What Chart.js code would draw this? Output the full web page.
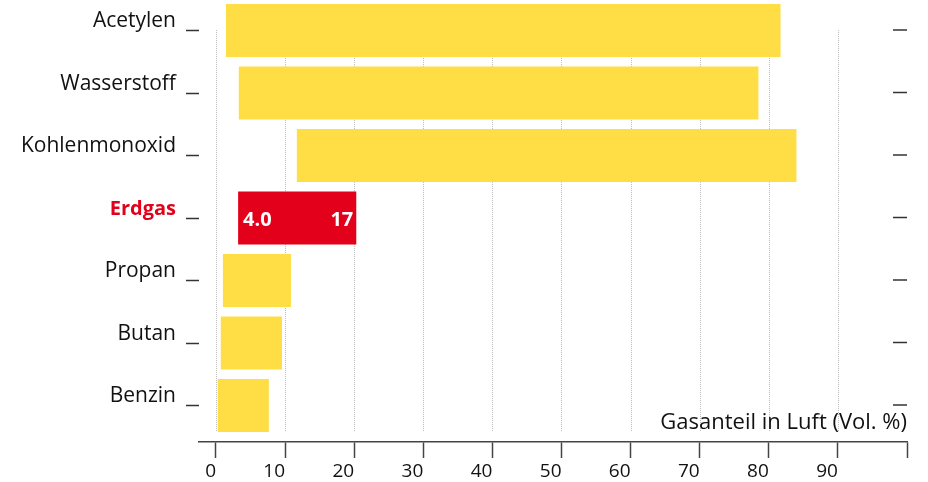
<!DOCTYPE html>
<html>
<head>
<meta charset="utf-8">
<script src="https://cdn.jsdelivr.net/npm/chart.js@4/dist/chart.umd.min.js"></script>
<style>
  body { margin: 0; background: #fff; }
  #wrap { width: 928px; height: 482px; }
</style>
</head>
<body>
<div id="wrap"><canvas id="gasChart"></canvas></div>
<script>
// Gases and their flammable range in air (Vol. %)
var gases = ['Acetylen', 'Wasserstoff', 'Kohlenmonoxid', 'Erdgas', 'Propan', 'Butan', 'Benzin'];
var lowerLimit = [1.45, 3.3, 11.7, 3.2, 1.0, 0.7, 0.25];
var upperLimit = [81.7, 78.5, 84.0, 20.3, 10.85, 9.55, 7.65];
var xTicks = [0, 10, 20, 30, 40, 50, 60, 70, 80, 90, 100];
var highlightGas = 'Erdgas';
var highlightLabels = ['4.0', '17'];
var axisTitle = 'Gasanteil in Luft (Vol. %)';

var YELLOW = '#ffde45';
var RED = '#e2001a';
var FONT = '"Open Sans", "Noto Sans", sans-serif';
var hi = gases.indexOf(highlightGas);

// build the floating bar points
var points = [];
for (var i = 0; i < gases.length; i++) {
    points.push({ y: i, x: [lowerLimit[i], upperLimit[i]] });
}

// dotted grid, right side marks and texts
var extras = {
    id: 'extras',
    beforeDatasetsDraw: function (chart) {
        var ctx = chart.ctx;
        var area = chart.chartArea;
        var xs = chart.scales.x;
        ctx.save();
        ctx.strokeStyle = '#bcbcbc';
        ctx.lineWidth = 1;
        ctx.setLineDash([1, 1]);
        xTicks.forEach(function (v) {
            if (v === 100) return;
            var px = Math.round(xs.getPixelForValue(v)) + 0.5;
            ctx.beginPath();
            ctx.moveTo(px, area.top + 30);
            ctx.lineTo(px, area.bottom - 10);
            ctx.stroke();
        });
        ctx.restore();
    },
    afterDatasetsDraw: function (chart) {
        var ctx = chart.ctx;
        var area = chart.chartArea;
        var ys = chart.scales.y;
        ctx.save();
        // small marks on the right
        ctx.strokeStyle = '#333';
        ctx.lineWidth = 1.5;
        gases.forEach(function (g, i) {
            var py = ys.getPixelForValue(i) - 0.5;
            ctx.beginPath();
            ctx.moveTo(area.right - 14, py);
            ctx.lineTo(area.right, py);
            ctx.stroke();
        });
        // values in the highlighted bar
        var bar = chart.getDatasetMeta(0).data[hi];
        ctx.fillStyle = '#fff';
        ctx.font = 'bold 20px ' + FONT;
        ctx.textBaseline = 'middle';
        ctx.textAlign = 'left';
        ctx.fillText(highlightLabels[0], bar.base + 5, bar.y + 2);
        ctx.textAlign = 'right';
        ctx.fillText(highlightLabels[1], bar.x - 3, bar.y + 2);
        // axis title
        ctx.fillStyle = '#111';
        ctx.font = '22px ' + FONT;
        ctx.textAlign = 'right';
        ctx.fillText(axisTitle, area.right, area.bottom - 19);
        ctx.restore();
    }
};

var ctx = document.getElementById('gasChart').getContext('2d');
var gasChart = new Chart(ctx, {
    type: 'bar',
    data: {
        datasets: [{
            data: points,
            backgroundColor: function (c) { return c.dataIndex === hi ? RED : YELLOW; },
            borderWidth: 0,
            barPercentage: 0.85,
            categoryPercentage: 1
        }]
    },
    options: {
        indexAxis: 'y',
        responsive: true,
        maintainAspectRatio: false,
        animation: false,
        layout: { padding: { top: 0, right: 21, bottom: 0, left: 0 } },
        plugins: {
            legend: { display: false },
            tooltip: { enabled: false }
        },
        scales: {
            x: {
                type: 'linear',
                min: -2.46,
                max: 100,
                afterBuildTicks: function (scale) {
                    scale.ticks = xTicks.map(function (v) { return { value: v }; });
                },
                afterFit: function (scale) { scale.height = 40; },
                ticks: {
                    color: '#111',
                    font: { family: FONT, size: 19 },
                    padding: 2,
                    align: 'end',
                    maxRotation: 0,
                    callback: function (v) { return v === 100 ? '' : v; }
                },
                grid: {
                    drawOnChartArea: false,
                    drawTicks: true,
                    tickLength: 16,
                    tickColor: '#444',
                    tickWidth: 1.5
                },
                border: { display: true, color: '#444', width: 1.5 }
            },
            y: {
                type: 'linear',
                reverse: true,
                offset: false,
                min: -0.488,
                max: 6.584,
                afterBuildTicks: function (scale) {
                    scale.ticks = gases.map(function (g, i) { return { value: i }; });
                },
                afterFit: function (scale) {
                    scale.width = 199;
                    scale.paddingTop = 0;
                    scale.paddingBottom = 0;
                },
                ticks: {
                    color: function (c) { return c.tick.value === hi ? RED : '#111'; },
                    font: function (c) {
                        var isHi = c.tick && c.tick.value === hi;
                        return { family: FONT, size: isHi ? 20 : 21, weight: isHi ? 'bold' : 'normal' };
                    },
                    padding: 10,
                    labelOffset: -9,
                    callback: function (v) { return gases[v]; }
                },
                grid: {
                    offset: false,
                    drawOnChartArea: false,
                    drawTicks: true,
                    tickLength: 13,
                    tickColor: '#333',
                    tickWidth: 1.5
                },
                border: { display: false }
            }
        }
    },
    plugins: [extras]
});
</script>
</body>
</html>
